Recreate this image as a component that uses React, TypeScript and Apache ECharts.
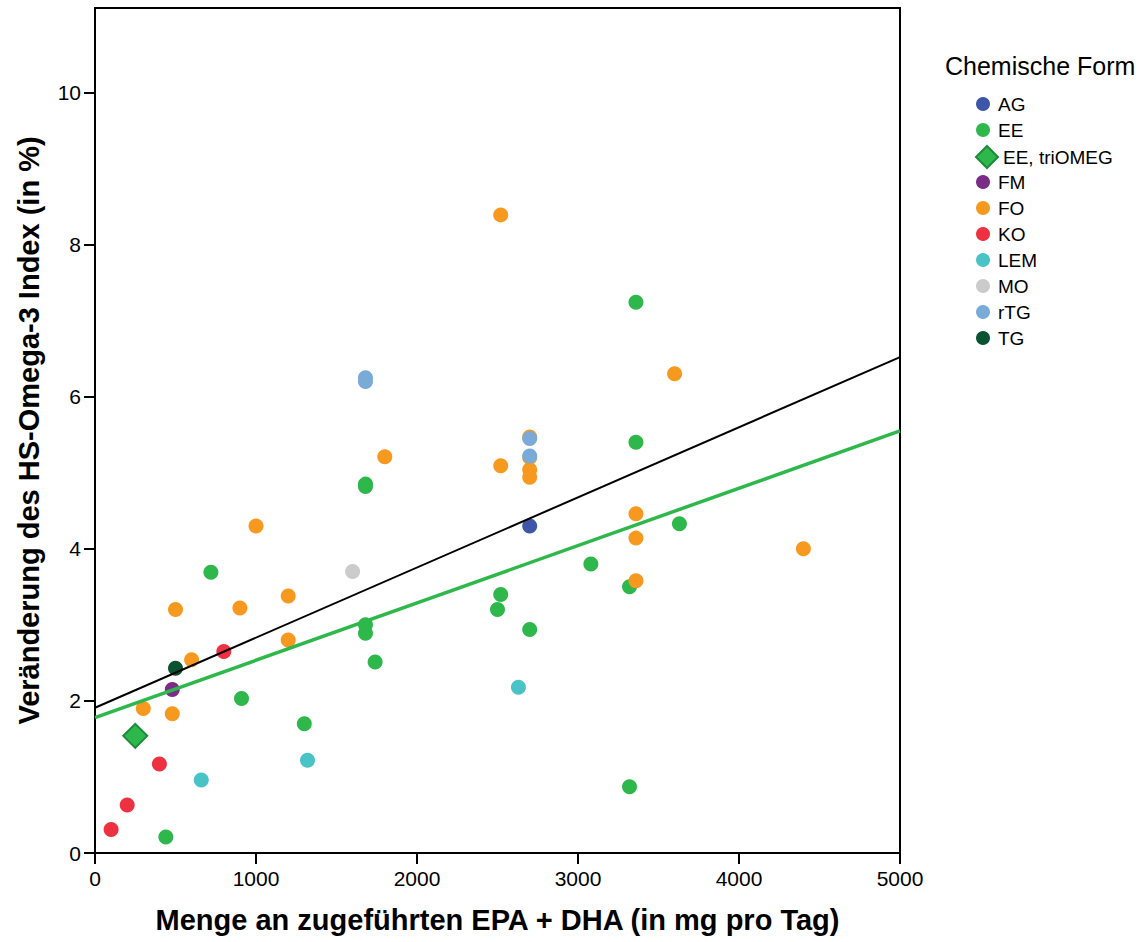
import React, { useEffect, useRef } from "react";
import * as echarts from "echarts";

// ---- data (x: mg EPA+DHA per day, y: change of HS-Omega-3 Index in %) ----
const legendNames = ["AG", "EE", "EE, triOMEG", "FM", "FO", "KO", "LEM", "MO", "rTG", "TG"];
const xTicks = [0, 1000, 2000, 3000, 4000, 5000];
const yTicks = [0, 2, 4, 6, 8, 10];

const agPoints = [[2700, 4.30]];
const eePoints = [
  [3360, 7.24], [3360, 5.40], [1680, 4.85], [1680, 4.82], [720, 3.69], [3080, 3.80],
  [3630, 4.33], [3320, 3.50], [2520, 3.40], [2500, 3.20], [1680, 3.00], [1680, 2.89],
  [2700, 2.94], [1740, 2.51], [910, 2.03], [1300, 1.70], [3320, 0.87], [440, 0.21],
];
const eeTriPoints = [[250, 1.54]];
const fmPoints = [[480, 2.15]];
const foPoints = [
  [2520, 8.39], [3600, 6.30], [2700, 5.47], [2700, 5.20], [2520, 5.09], [2700, 5.04],
  [2700, 4.94], [1800, 5.21], [3360, 4.46], [3360, 4.14], [3360, 3.58], [4400, 4.00],
  [1000, 4.30], [500, 3.20], [900, 3.22], [1200, 3.38], [1200, 2.80], [600, 2.54],
  [300, 1.90], [480, 1.83],
];
const koPoints = [[800, 2.65], [400, 1.17], [200, 0.63], [100, 0.31]];
const lemPoints = [[660, 0.96], [1320, 1.22], [2630, 2.18]];
const moPoints = [[1600, 3.70]];
const rtgPoints = [[1680, 6.25], [1680, 6.20], [2700, 5.45], [2700, 5.22]];
const tgPoints = [[500, 2.43]];

const fitAll = [[0, 1.91], [5000, 6.52]];
const fitEE = [[0, 1.78], [5000, 5.55]];

const colors: Record<string, string> = {
  AG: "#3E56A8",
  EE: "#2EB84B",
  "EE, triOMEG": "#2EB84B",
  FM: "#7A2C86",
  FO: "#F7981F",
  KO: "#EE3140",
  LEM: "#4AC3C7",
  MO: "#CBCBCB",
  rTG: "#7AAAD7",
  TG: "#0B5330",
};

const FONT = "'Liberation Sans', Arial, Helvetica, sans-serif";

export default function App() {
  const ref = useRef<HTMLDivElement>(null);

  useEffect(() => {
    if (!ref.current) return;
    const chart = echarts.init(ref.current, null, { renderer: "svg" });

    const scatter = (name: string, data: number[][], extra: any = {}) => ({
      name,
      type: "scatter",
      data,
      symbol: "circle",
      symbolSize: 15,
      itemStyle: { color: colors[name], opacity: 1 },
      z: 3,
      ...extra,
    });

    const series: any[] = [
      scatter("EE", eePoints),
      scatter("EE, triOMEG", eeTriPoints, {
        symbol: "diamond",
        symbolSize: 24,
        itemStyle: { color: colors["EE, triOMEG"], opacity: 1, borderColor: "#1C8A3C", borderWidth: 2 },
      }),
      scatter("AG", agPoints),
      scatter("FM", fmPoints),
      scatter("FO", foPoints),
      scatter("KO", koPoints),
      scatter("LEM", lemPoints),
      scatter("MO", moPoints),
      scatter("rTG", rtgPoints),
      scatter("TG", tgPoints),
      {
        name: "fitEE",
        type: "line",
        data: fitEE,
        symbol: "none",
        lineStyle: { color: "#2EB84B", width: 3.5 },
        z: 5,
        silent: true,
      },
      {
        name: "fitAll",
        type: "line",
        data: fitAll,
        symbol: "none",
        lineStyle: { color: "#000000", width: 2 },
        z: 6,
        silent: true,
      },
    ];

    const legends = legendNames.map((name, i) => {
      const cy = 104 + 26 * i;
      const isDiamond = name === "EE, triOMEG";
      const iw = isDiamond ? 22 : 20;
      const ih = isDiamond ? 22 : 14;
      const itemH = Math.max(ih, 19);
      return {
        data: [{ name, icon: isDiamond ? "diamond" : "circle" }],
        orient: "vertical",
        left: isDiamond ? 975 : 976,
        top: cy - itemH / 2,
        padding: 0,
        itemWidth: iw,
        itemHeight: ih,
        itemGap: 0,
        selectedMode: false,
        textStyle: { fontSize: 19, color: "#000", fontFamily: FONT, lineHeight: 19 },
      };
    });

    const fmt = (v: number) => String(v);

    chart.setOption({
      animation: false,
      backgroundColor: "#ffffff",
      title: {
        text: "Chemische Form",
        left: 945,
        top: 53,
        padding: 0,
        textStyle: { fontSize: 25, fontWeight: "normal", color: "#000", fontFamily: FONT },
      },
      legend: legends,
      grid: {
        left: 95,
        right: 244,
        top: 8,
        bottom: 89,
        show: true,
        borderColor: "#000",
        borderWidth: 2,
        backgroundColor: "transparent",
      },
      xAxis: {
        type: "value",
        min: 0,
        max: 5000,
        interval: 1000,
        name: "Menge an zugeführten EPA + DHA (in mg pro Tag)",
        nameLocation: "middle",
        nameGap: 52,
        nameTextStyle: { fontSize: 29, fontWeight: "bold", color: "#000", fontFamily: FONT },
        axisLine: { show: true, onZero: false, lineStyle: { color: "#000", width: 2 } },
        axisTick: { show: true, length: 11, lineStyle: { color: "#000", width: 2 }, customValues: xTicks },
        axisLabel: { fontSize: 21, color: "#000", fontFamily: FONT, margin: 15, customValues: xTicks, formatter: fmt },
        splitLine: { show: false },
      },
      yAxis: {
        type: "value",
        min: 0,
        max: 11.11,
        name: "Veränderung des HS-Omega-3 Index (in %)",
        nameLocation: "middle",
        nameGap: 52,
        nameRotate: 90,
        nameTextStyle: { fontSize: 29, fontWeight: "bold", color: "#000", fontFamily: FONT },
        axisLine: { show: true, onZero: false, lineStyle: { color: "#000", width: 2 } },
        axisTick: { show: true, length: 11, lineStyle: { color: "#000", width: 2 }, customValues: yTicks },
        axisLabel: { fontSize: 21, color: "#000", fontFamily: FONT, margin: 14, customValues: yTicks, formatter: fmt },
        splitLine: { show: false },
      },
      tooltip: { show: false },
      series,
    });

    return () => {
      chart.dispose();
    };
  }, []);

  return <div ref={ref} style={{ width: 1144, height: 942, position: "absolute", left: 0, top: 0 }} />;
}
